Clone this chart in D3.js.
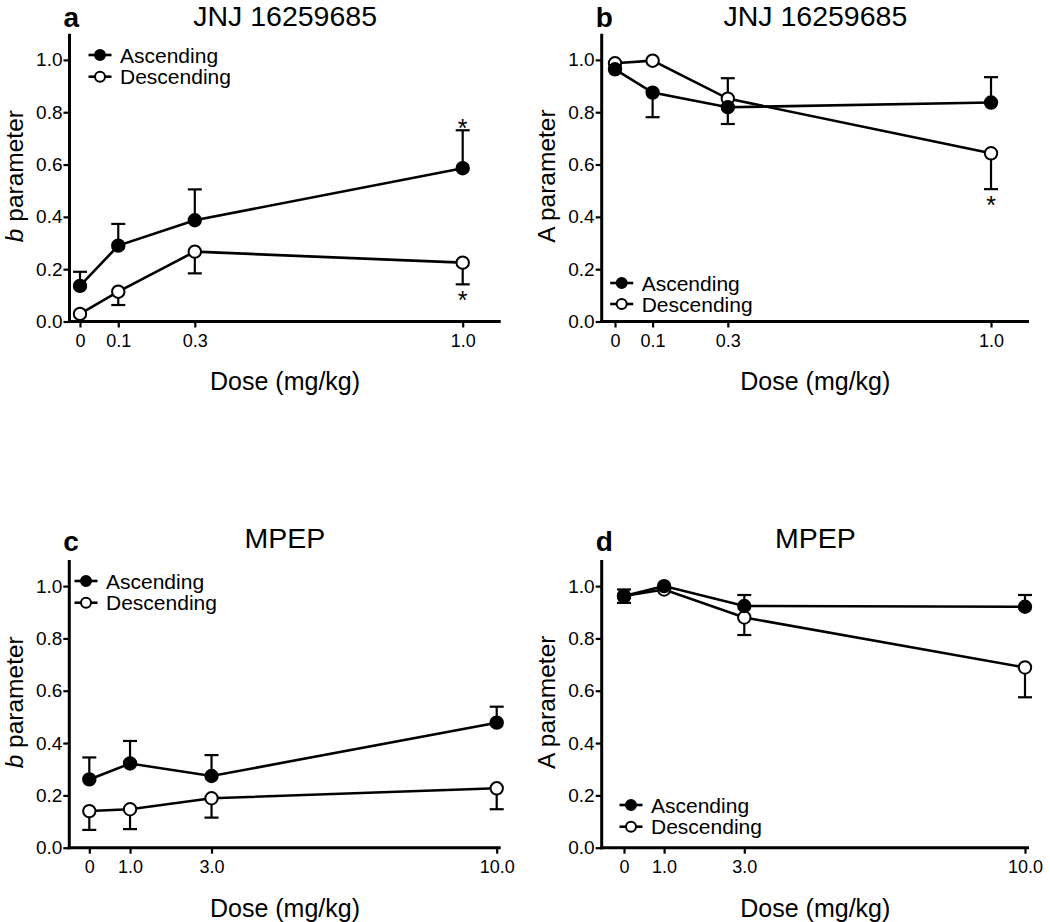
<!DOCTYPE html>
<html><head><meta charset="utf-8">
<script src="https://cdn.jsdelivr.net/npm/d3@7"></script>
<style>
body{margin:0;background:#fff}
text{font-family:Arial,"Liberation Sans",Helvetica,sans-serif;fill:#000}
</style>
</head><body>
<svg id="chart" width="1050" height="922"></svg>
<script>
// ---- data ----
const doseJNJ = [0, 0.1, 0.3, 1.0];
const doseMPEP = [0, 1, 3, 10];
const tickLabelsJNJ = ["0", "0.1", "0.3", "1.0"];
const tickLabelsMPEP = ["0", "1.0", "3.0", "10.0"];
const yTickValues = [0, 0.2, 0.4, 0.6, 0.8, 1.0];
const seriesNames = ["Ascending", "Descending"];

// panel a: JNJ b parameter (error end = mean ± SEM as drawn; null = not visible)
const aAsc = [0.136, 0.290, 0.387, 0.586];
const aAscErr = [0.190, 0.373, 0.505, 0.731];
const aDesc = [0.029, 0.114, 0.267, 0.225];
const aDescErr = [null, 0.063, 0.184, 0.142];
const aStars = [{s: "asc", i: 3}, {s: "desc", i: 3}];

// panel b: JNJ A parameter
const bAsc = [0.964, 0.875, 0.819, 0.837];
const bAscErr = [null, 0.781, 0.755, 0.934];
const bDesc = [0.987, 0.997, 0.852, 0.643];
const bDescErr = [null, null, 0.930, 0.506];
const bStars = [{s: "desc", i: 3}];

// panel c: MPEP b parameter
const cAsc = [0.261, 0.322, 0.274, 0.478];
const cAscErr = [0.345, 0.408, 0.354, 0.539];
const cDesc = [0.140, 0.147, 0.189, 0.227];
const cDescErr = [0.068, 0.071, 0.115, 0.147];
const cStars = [];

// panel d: MPEP A parameter
const dAsc = [0.962, 1.000, 0.924, 0.921];
const dAscErr = [0.987, null, 0.966, 0.966];
const dDesc = [0.962, 0.987, 0.880, 0.689];
const dDescErr = [0.936, null, 0.813, 0.575];
const dStars = [];

// ---- layout ----
const panels = [
  {letter: "a", title: "JNJ 16259685", yVar: "b", italic: true, dose: doseJNJ, ticks: tickLabelsJNJ,
   asc: aAsc, ascErr: aAscErr, desc: aDesc, descErr: aDescErr, stars: aStars,
   x0: 69.5, x1: 500.7, xDomain: [-0.0274, 1.0993], yBottom: 321.5, legX: 100, legY: 55, legDy: 21.7, axLabelY: 390,
   titleY: 26, letterY: 27},
  {letter: "b", title: "JNJ 16259685", yVar: "A", italic: false, dose: doseJNJ, ticks: tickLabelsJNJ,
   asc: bAsc, ascErr: bAscErr, desc: bDesc, descErr: bDescErr, stars: bStars,
   x0: 601.7, x1: 1029, xDomain: [-0.0354, 1.101], yBottom: 321.5, legX: 621.7, legY: 283, legDy: 21, axLabelY: 390,
   titleY: 26, letterY: 27},
  {letter: "c", title: "MPEP", yVar: "b", italic: true, dose: doseMPEP, ticks: tickLabelsMPEP,
   asc: cAsc, ascErr: cAscErr, desc: cDesc, descErr: cDescErr, stars: cStars,
   x0: 69.3, x1: 500.7, xDomain: [-0.491, 10.098], yBottom: 847.7, legX: 86, legY: 581, legDy: 21.7, axLabelY: 916.5,
   titleY: 548, letterY: 550.5},
  {letter: "d", title: "MPEP", yVar: "A", italic: false, dose: doseMPEP, ticks: tickLabelsMPEP,
   asc: dAsc, ascErr: dAscErr, desc: dDesc, descErr: dDescErr, stars: dStars,
   x0: 601.7, x1: 1029, xDomain: [-0.556, 10.1], yBottom: 847.7, legX: 631, legY: 805, legDy: 21.7, axLabelY: 916.5,
   titleY: 548, letterY: 550.5}
];

const svg = d3.select("#chart");
const PX_PER_UNIT = 261.6;
const R = 6.2;

panels.forEach(p => {
  const g = svg.append("g");
  const x = d3.scaleLinear().domain(p.xDomain).range([p.x0, p.x1]);
  const y = d3.scaleLinear().domain([0, 1.1]).range([p.yBottom, p.yBottom - 1.1 * PX_PER_UNIT]);
  const yTop = y(1.1);

  // y axis
  const ya = g.append("g").attr("transform", `translate(${p.x0},0)`)
    .call(d3.axisLeft(y).tickValues(yTickValues).tickFormat(d3.format(".1f")).tickSize(6).tickPadding(1).tickSizeOuter(0));
  ya.select(".domain").remove();
  ya.selectAll(".tick line").attr("stroke", "#000").attr("stroke-width", 2.2);
  ya.selectAll(".tick text").style("font-size", "19px").attr("fill", "#000");

  // x axis
  const xa = g.append("g").attr("transform", `translate(0,${p.yBottom})`)
    .call(d3.axisBottom(x).tickValues(p.dose).tickFormat((d, i) => p.ticks[i]).tickSize(6).tickPadding(7).tickSizeOuter(0));
  xa.select(".domain").remove();
  xa.selectAll(".tick line").attr("stroke", "#000").attr("stroke-width", 2.2);
  xa.selectAll(".tick text").style("font-size", "18px").attr("fill", "#000");

  // axis lines
  g.append("line").attr("x1", p.x0).attr("x2", p.x0).attr("y1", yTop).attr("y2", p.yBottom + 1.5)
    .attr("stroke", "#000").attr("stroke-width", 3);
  g.append("line").attr("x1", p.x0 - 1.5).attr("x2", p.x1).attr("y1", p.yBottom).attr("y2", p.yBottom)
    .attr("stroke", "#000").attr("stroke-width", 3);

  // titles
  g.append("text").attr("x", (p.x0 + p.x1) / 2).attr("y", p.titleY).attr("text-anchor", "middle")
    .style("font-size", "28.5px").text(p.title);
  g.append("text").attr("x", p.x0 - 6).attr("y", p.letterY).style("font-size", "28px").style("font-weight", "bold").text(p.letter);

  // y label
  const yl = g.append("text").attr("transform", `translate(${p.x0 - 46.5},${(p.yBottom + yTop) / 2 - 1.5}) rotate(-90)`)
    .attr("text-anchor", "middle").style("font-size", "24.5px");
  yl.append("tspan").style("font-style", p.italic ? "italic" : "normal").text(p.yVar);
  yl.append("tspan").text(" parameter");

  // x label
  g.append("text").attr("x", (p.x0 + p.x1) / 2).attr("y", p.axLabelY).attr("text-anchor", "middle")
    .style("font-size", "25px").text("Dose (mg/kg)");

  const series = [
    {key: "desc", vals: p.desc, err: p.descErr, fill: "#fff"},
    {key: "asc", vals: p.asc, err: p.ascErr, fill: "#000"}
  ];
  const line = d3.line().x(d => x(d[0])).y(d => y(d[1]));

  // lines
  series.forEach(s => {
    g.append("path").datum(p.dose.map((d, i) => [d, s.vals[i]]))
      .attr("d", line).attr("fill", "none").attr("stroke", "#000").attr("stroke-width", 2.6);
  });
  // error bars
  series.forEach(s => {
    p.dose.forEach((d, i) => {
      if (s.err[i] == null) return;
      g.append("line").attr("x1", x(d)).attr("x2", x(d)).attr("y1", y(s.vals[i])).attr("y2", y(s.err[i]))
        .attr("stroke", "#000").attr("stroke-width", 2.2);
      g.append("line").attr("x1", x(d) - 7).attr("x2", x(d) + 7).attr("y1", y(s.err[i])).attr("y2", y(s.err[i]))
        .attr("stroke", "#000").attr("stroke-width", 2.2);
    });
  });
  // markers
  series.forEach(s => {
    g.selectAll(null).data(p.dose.map((d, i) => [d, s.vals[i]])).enter().append("circle")
      .attr("cx", d => x(d[0])).attr("cy", d => y(d[1])).attr("r", R)
      .attr("fill", s.fill).attr("stroke", "#000").attr("stroke-width", 2);
  });
  // significance stars
  p.stars.forEach(st => {
    const s = series.find(q => q.key === st.s);
    const up = s.err[st.i] > s.vals[st.i];
    const cy = y(s.err[st.i]);
    g.append("text").attr("x", x(p.dose[st.i])).attr("y", up ? cy + 7 : cy + 25)
      .attr("text-anchor", "middle").style("font-size", "25px").text("*");
  });

  // legend
  const leg = [{name: seriesNames[0], fill: "#000"}, {name: seriesNames[1], fill: "#fff"}];
  leg.forEach((l, k) => {
    const ly = p.legY + k * p.legDy;
    g.append("line").attr("x1", p.legX - 11.5).attr("x2", p.legX + 11.5).attr("y1", ly).attr("y2", ly)
      .attr("stroke", "#000").attr("stroke-width", 2.6);
    g.append("circle").attr("cx", p.legX).attr("cy", ly).attr("r", 5).attr("fill", l.fill)
      .attr("stroke", "#000").attr("stroke-width", 2);
    g.append("text").attr("x", p.legX + 20).attr("y", ly + 7.5).style("font-size", "21px").text(l.name);
  });
});
</script>
</body></html>
